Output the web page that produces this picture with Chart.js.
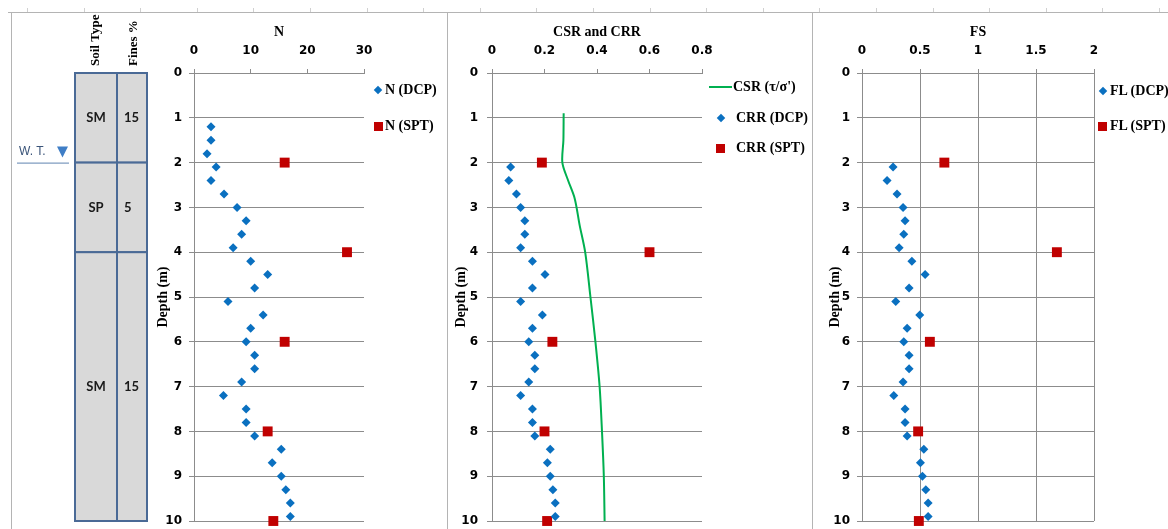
<!DOCTYPE html>
<html>
<head>
<meta charset="utf-8">
<script src="https://cdn.jsdelivr.net/npm/chart.js@4.4.1/dist/chart.umd.min.js"></script>
<style>
    html, body { margin: 0; padding: 0; background: #fff; }
    body { width: 1168px; height: 529px; position: relative; overflow: hidden; }
    canvas { position: absolute; top: 0; }
    .frame { position: absolute; background: #b4b4b4; }
    .legend { position: absolute; display: flex; align-items: center; height: 18px;
              font: bold 14px "Liberation Serif", serif; color: #000; white-space: nowrap; }
    .dia { width: 6px; height: 6px; background: #0a70c0; transform: rotate(45deg); flex: none; }
    .sq { width: 9px; height: 9px; background: #c00000; flex: none; }
    .ln { width: 23px; height: 2px; background: #00b050; flex: none; }
</style>
</head>
<body>
<div id="frame"></div>
<canvas id="chartN" width="447" height="529" style="left:0px"></canvas>
<canvas id="chartCSR" width="365" height="529" style="left:447px"></canvas>
<canvas id="chartFS" width="356" height="529" style="left:812px"></canvas>

<!-- legends -->
<div class="legend" style="left:375px; top:81px"><span class="dia"></span><span style="margin-left:4px">N (DCP)</span></div>
<div class="legend" style="left:374px; top:117px"><span class="sq"></span><span style="margin-left:2px">N (SPT)</span></div>

<div class="legend" style="left:709px; top:78px"><span class="ln"></span><span style="margin-left:1px">CSR (τ/σ')</span></div>
<div class="legend" style="left:718px; top:109px"><span class="dia"></span><span style="margin-left:12px">CRR (DCP)</span></div>
<div class="legend" style="left:716px; top:139px"><span class="sq"></span><span style="margin-left:11px">CRR (SPT)</span></div>

<div class="legend" style="left:1100px; top:82px"><span class="dia"></span><span style="margin-left:4px">FL (DCP)</span></div>
<div class="legend" style="left:1098px; top:117px"><span class="sq"></span><span style="margin-left:3px">FL (SPT)</span></div>

<script>
// Depths (m)
const dcpDepth = [1.2, 1.5, 1.8, 2.1, 2.4, 2.7, 3.0, 3.3, 3.6, 3.9, 4.2, 4.5, 4.8, 5.1, 5.4,
                  5.7, 6.0, 6.3, 6.6, 6.9, 7.2, 7.5, 7.8, 8.1, 8.4, 8.7, 9.0, 9.3, 9.6, 9.9];
const crrDepth = [2.1, 2.4, 2.7, 3.0, 3.3, 3.6, 3.9, 4.2, 4.5, 4.8, 5.1, 5.4, 5.7, 6.0,
                  6.3, 6.6, 6.9, 7.2, 7.5, 7.8, 8.1, 8.4, 8.7, 9.0, 9.3, 9.6, 9.9];
const sptDepth = [2, 4, 6, 8, 10];
const csrDepth = [0.9, 1.5, 2.0, 2.4, 2.8, 3.4, 4.0, 5.0, 6.0, 7.0, 8.0, 9.0, 10.0];

// N values
const nDcp = [3, 3, 2.3, 3.9, 3, 5.3, 7.6, 9.2, 8.4, 6.9, 10, 13, 10.7, 6, 12.2,
              10, 9.2, 10.7, 10.7, 8.4, 5.2, 9.2, 9.2, 10.7, 15.4, 13.8, 15.4, 16.2, 17, 17];
const nSpt = [16, 27, 16, 13, 14];

// CSR and CRR
const csr = [0.273, 0.272, 0.268, 0.29, 0.315, 0.334, 0.355, 0.375, 0.394, 0.41, 0.419, 0.426, 0.429];
const crrDcp = [0.071, 0.064, 0.093, 0.109, 0.125, 0.125, 0.109, 0.154, 0.202, 0.154, 0.109, 0.192, 0.154, 0.14,
                0.163, 0.163, 0.14, 0.109, 0.154, 0.154, 0.163, 0.222, 0.211, 0.222, 0.232, 0.241, 0.241];
const crrSpt = [0.19, 0.6, 0.23, 0.2, 0.21];

// Factor of safety
const fsDcp = [0.268, 0.216, 0.302, 0.354, 0.371, 0.36, 0.32, 0.43, 0.544, 0.406, 0.291, 0.498, 0.389, 0.36,
               0.406, 0.406, 0.354, 0.274, 0.371, 0.371, 0.389, 0.533, 0.504, 0.521, 0.55, 0.57, 0.57];
const fsSpt = [0.71, 1.68, 0.585, 0.484, 0.49];

// Soil profile
const layerTop = [0, 2, 4];
const layerBottom = [2, 4, 10];
const soilType = ['SM', 'SP', 'SM'];
const finesPct = ['15', '5', '15'];
const waterTable = 2;

const BLUE = '#0a70c0';
const RED = '#c00000';
const GREEN = '#00b050';
const GRID = '#8c8c8c';
const TICK_FONT = { family: 'DejaVu Sans', size: 12, weight: 'bold' };
const TITLE_FONT = { family: 'Liberation Serif', size: 14, weight: 'bold' };

Chart.defaults.animation = false;

// frame lines round the panels
(function drawFrame() {
    const f = document.getElementById('frame');
    const add = (l, t, w, h, c) => {
        const d = document.createElement('div');
        d.className = 'frame';
        d.style.cssText = `left:${l}px;top:${t}px;width:${w}px;height:${h}px;` + (c ? `background:${c}` : '');
        f.appendChild(d);
    };
    add(8, 12, 1160, 1);
    [11, 447, 812].forEach(x => add(x, 12, 1, 517));
    for (let x = 27; x < 1168; x += 56.6) add(Math.round(x), 8, 1, 4, '#d0d0d0');
})();

function toPoints(xs, ys) {
    return xs.map((v, i) => ({ x: v, y: ys[i] }));
}

function yAxis(width, labelPad) {
    return {
        type: 'linear', position: 'left', reverse: true, min: 0, max: 10,
        ticks: { stepSize: 1, color: '#000', font: TICK_FONT, padding: labelPad },
        grid: { color: GRID, tickLength: 5 },
        border: { color: GRID },
        title: { display: true, text: 'Depth (m)', color: '#000', font: TITLE_FONT, padding: { top: 3, bottom: 0 } },
        afterFit: s => { s.width = width; s.paddingTop = 0; s.paddingBottom = 0; }
    };
}

function xAxis(title, max, step, onArea) {
    return {
        type: 'linear', position: 'top', min: 0, max: max,
        ticks: { stepSize: step, color: '#000', font: TICK_FONT, padding: 11,
                 callback: v => String(Number(v.toFixed(3))) },
        grid: { color: GRID, tickLength: 4, drawOnChartArea: onArea },
        border: { color: GRID },
        title: { display: true, text: title, color: '#000', font: TITLE_FONT, padding: { top: 24, bottom: 0 } },
        afterFit: s => { s.height = 73; }
    };
}

function dcpSet(label, xs, ys) {
    return { label: label, data: toPoints(xs, ys), pointStyle: 'rectRot', pointRadius: 4.5,
             backgroundColor: BLUE, borderColor: BLUE, borderWidth: 0, clip: false };
}

function sptSet(label, xs, ys) {
    return { label: label, data: toPoints(xs, ys), pointStyle: 'rect', pointRadius: 7,
             backgroundColor: RED, borderColor: RED, borderWidth: 0, clip: false };
}

function baseOptions(padLeft, padRight, x, y) {
    return {
        responsive: false,
        layout: { padding: { left: padLeft, right: padRight, top: 0, bottom: 8 } },
        plugins: { legend: { display: false }, tooltip: { enabled: false } },
        scales: { x: x, y: y }
    };
}

// soil column drawn on the depth scale of the first chart
const soilColumn = {
    id: 'soilColumn',
    afterDraw(chart) {
        const ctx = chart.ctx;
        const y = chart.scales.y;
        const colLeft = 75, colMid = 117, colRight = 147;

        ctx.save();
        layerTop.forEach((d, i) => {
            const top = y.getPixelForValue(d);
            const bot = y.getPixelForValue(layerBottom[i]);
            ctx.fillStyle = '#d9d9d9';
            ctx.fillRect(colLeft, top, colRight - colLeft, bot - top);
            ctx.strokeStyle = '#4a6a96';
            ctx.lineWidth = 2;
            ctx.strokeRect(colLeft, top, colMid - colLeft, bot - top);
            ctx.strokeRect(colMid, top, colRight - colMid, bot - top);

            const mid = (top + bot) / 2;
            ctx.fillStyle = '#1a1a1a';
            ctx.font = 'bold 13px Lato, sans-serif';
            ctx.textBaseline = 'middle';
            ctx.textAlign = 'center';
            ctx.fillText(soilType[i], (colLeft + colMid) / 2, mid);
            ctx.textAlign = 'left';
            ctx.fillText(finesPct[i], 124, mid);
        });

        // column headers
        ctx.fillStyle = '#000';
        ctx.font = 'bold 13px "Liberation Serif", serif';
        ctx.textAlign = 'left';
        ctx.textBaseline = 'middle';
        [['Soil Type', 96], ['Fines %', 134]].forEach(([t, x]) => {
            ctx.save();
            ctx.translate(x, 66);
            ctx.rotate(-Math.PI / 2);
            ctx.fillText(t, 0, 0);
            ctx.restore();
        });

        // water table
        const wt = y.getPixelForValue(waterTable);
        ctx.strokeStyle = '#5f84b0';
        ctx.lineWidth = 1;
        ctx.beginPath();
        ctx.moveTo(17, wt + 0.5);
        ctx.lineTo(69, wt + 0.5);
        ctx.stroke();
        ctx.fillStyle = '#3a5479';
        ctx.font = '12px "Liberation Sans", sans-serif';
        ctx.textBaseline = 'middle';
        ctx.fillText('W. T.', 19, wt - 11);
        ctx.fillStyle = '#3f7ec6';
        ctx.beginPath();
        ctx.moveTo(57, wt - 16);
        ctx.lineTo(68, wt - 16);
        ctx.lineTo(62.5, wt - 5);
        ctx.closePath();
        ctx.fill();
        ctx.restore();
    }
};

new Chart(document.getElementById('chartN'), {
    type: 'scatter',
    data: {
        datasets: [
            dcpSet('N (DCP)', nDcp, dcpDepth),
            sptSet('N (SPT)', nSpt, sptDepth)
        ]
    },
    options: baseOptions(152, 83, xAxis('N', 30, 10, false), yAxis(42, 7)),
    plugins: [soilColumn]
});

new Chart(document.getElementById('chartCSR'), {
    type: 'scatter',
    data: {
        datasets: [
            { label: "CSR (τ/σ')", data: toPoints(csr, csrDepth), showLine: true, pointRadius: 0,
              borderColor: GREEN, borderWidth: 2, tension: 0.3, fill: false },
            dcpSet('CRR (DCP)', crrDcp, crrDepth),
            sptSet('CRR (SPT)', crrSpt, sptDepth)
        ]
    },
    options: baseOptions(3, 110, xAxis('CSR and CRR', 0.8, 0.2, false), yAxis(42, 9))
});

new Chart(document.getElementById('chartFS'), {
    type: 'scatter',
    data: {
        datasets: [
            dcpSet('FL (DCP)', fsDcp, crrDepth),
            sptSet('FL (SPT)', fsSpt, sptDepth)
        ]
    },
    options: baseOptions(12, 74, xAxis('FS', 2, 0.5, true), yAxis(38, 7))
});
</script>
</body>
</html>
